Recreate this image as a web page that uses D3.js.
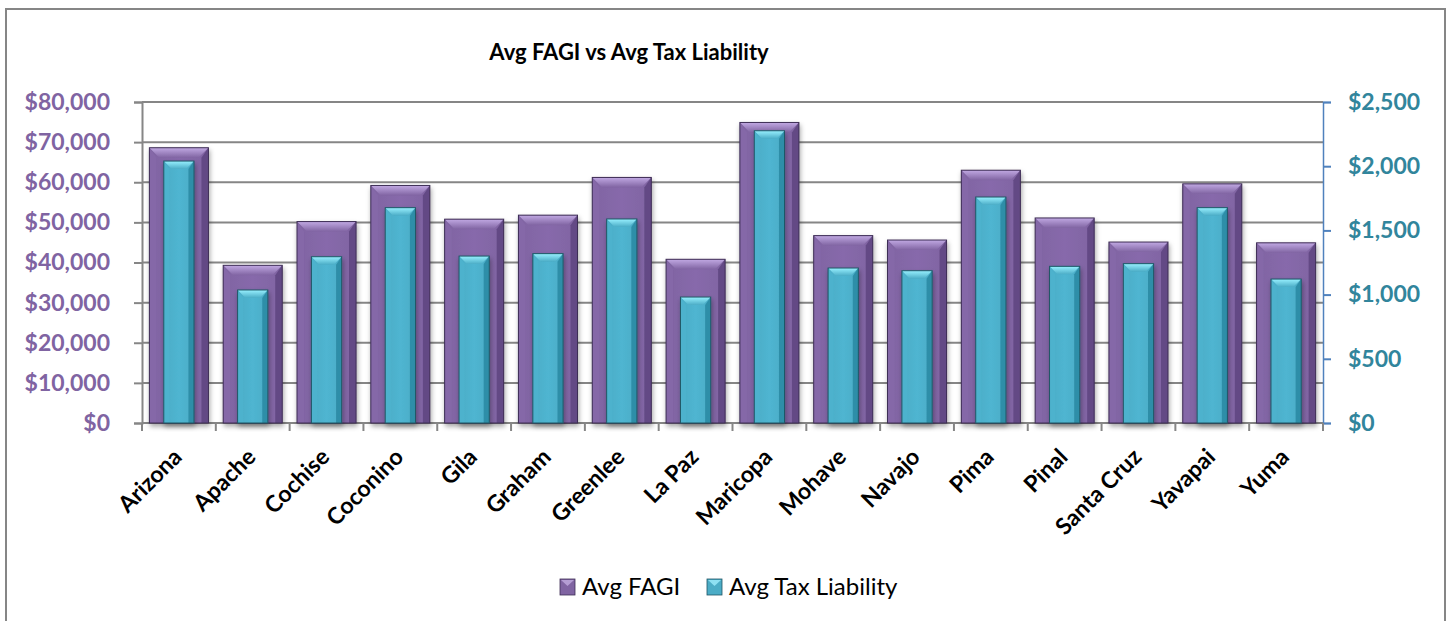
<!DOCTYPE html>
<html>
<head>
<meta charset="utf-8">
<script src="https://cdn.jsdelivr.net/npm/d3@7"></script>
<style>
  body { margin: 0; background: #fff; }
  text { font-family: Lato, "Open Sans", sans-serif; }
</style>
</head>
<body>
<div id="container"></div>
<script>
// chart data
var counties = ["Arizona", "Apache", "Cochise", "Coconino", "Gila", "Graham", "Greenlee", "La Paz",
    "Maricopa", "Mohave", "Navajo", "Pima", "Pinal", "Santa Cruz", "Yavapai", "Yuma"];
var avgFagi = [68600, 39300, 50200, 59200, 50800, 51800, 61200, 40800,
    74900, 46700, 45600, 63000, 51100, 45100, 59600, 44900];
var avgTax = [2040, 1036, 1295, 1677, 1300, 1319, 1589, 981,
    2276, 1207, 1186, 1760, 1220, 1241, 1677, 1121];
var leftTicks = [0, 10000, 20000, 30000, 40000, 50000, 60000, 70000, 80000];
var rightTicks = [0, 500, 1000, 1500, 2000, 2500];
var seriesNames = ["Avg FAGI", "Avg Tax Liability"];

var svgWidth = 1449, svgHeight = 621;
var margin = { top: 102, right: 126, bottom: 198, left: 142 };
var width = svgWidth - margin.left - margin.right,
    height = svgHeight - margin.top - margin.bottom;

var purple = { base: "#8064A2", light: "#B49DD3", dark: "#634A85", edge: "#3E2E55" };
var cyan = { base: "#4BACC6", light: "#8EE0F2", dark: "#2F8EA8", edge: "#1F5665" };

var svg = d3.select("div#container").append("svg")
    .attr("width", svgWidth)
    .attr("height", svgHeight);

// outer frame
svg.append("rect")
    .attr("x", 6).attr("y", 9)
    .attr("width", 1439).attr("height", 620)
    .attr("fill", "none").attr("stroke", "#868686").attr("stroke-width", 2);

var defs = svg.append("defs");
var shadow = defs.append("filter").attr("id", "shadow")
    .attr("x", "-20%").attr("y", "-20%").attr("width", "140%").attr("height", "140%");
shadow.append("feDropShadow").attr("dx", 1).attr("dy", 3).attr("stdDeviation", 2.5)
    .attr("flood-color", "#000").attr("flood-opacity", 0.35);

function faceGradient(id, c) {
    var g = defs.append("linearGradient").attr("id", id)
        .attr("x1", 0).attr("x2", 1).attr("y1", 0).attr("y2", 0);
    g.append("stop").attr("offset", "0%").attr("stop-color", c.base);
    g.append("stop").attr("offset", "50%").attr("stop-color", d3.color(c.base).brighter(0.15));
    g.append("stop").attr("offset", "100%").attr("stop-color", c.base);
}
faceGradient("gradPurple", purple);
faceGradient("gradCyan", cyan);

function topGradient(id, c) {
    var g = defs.append("linearGradient").attr("id", id)
        .attr("x1", 0).attr("x2", 0).attr("y1", 0).attr("y2", 1);
    g.append("stop").attr("offset", "0%").attr("stop-color", d3.color(c.light).brighter(0.2));
    g.append("stop").attr("offset", "100%").attr("stop-color", c.base);
}
topGradient("topPurple", purple);
topGradient("topCyan", cyan);

var g = svg.append("g")
    .attr("transform", "translate(" + margin.left + "," + margin.top + ")");

var x = d3.scaleBand().domain(counties).range([0, width]).padding(0);
var yL = d3.scaleLinear().domain([0, 80000]).range([height, 0]);
var yR = d3.scaleLinear().domain([0, 2500]).range([height, 0]);

// gridlines
g.selectAll(".grid").data(leftTicks.slice(1)).enter().append("line")
    .attr("x1", 0).attr("x2", width)
    .attr("y1", function (d) { return yL(d); })
    .attr("y2", function (d) { return yL(d); })
    .attr("stroke", "#868686").attr("stroke-width", 2);

// left axis
var leftAxis = g.append("g")
    .call(d3.axisLeft(yL).tickValues(leftTicks).tickSize(8).tickPadding(24)
        .tickFormat(function (d) { return "$" + d3.format(",")(d); }));
leftAxis.select(".domain").attr("stroke", "#868686").attr("stroke-width", 2);
leftAxis.selectAll(".tick line").attr("stroke", "#868686").attr("stroke-width", 2);
leftAxis.selectAll("text")
    .attr("fill", "#8064A2").style("font-size", "23px").style("font-weight", "bold")
    .attr("font-family", null);

// right axis
var rightAxis = g.append("g")
    .attr("transform", "translate(" + width + ",0)")
    .call(d3.axisRight(yR).tickValues(rightTicks).tickSize(8).tickPadding(17)
        .tickFormat(function (d) { return "$" + d3.format(",")(d); }));
rightAxis.select(".domain").attr("stroke", "#4F81BD").attr("stroke-width", 1.5);
rightAxis.selectAll(".tick line").attr("stroke", "#4F81BD").attr("stroke-width", 2);
rightAxis.selectAll("text")
    .attr("fill", "#31859C").style("font-size", "23px").style("font-weight", "bold")
    .attr("font-family", null);

// bottom axis
var boundaries = counties.map(function (c) { return x(c); }).concat([width]);
g.append("line").attr("x1", 0).attr("x2", width).attr("y1", height).attr("y2", height)
    .attr("stroke", "#868686").attr("stroke-width", 2);
g.selectAll(".xtick").data(boundaries).enter().append("line")
    .attr("x1", function (d) { return d; }).attr("x2", function (d) { return d; })
    .attr("y1", height).attr("y2", height + 8)
    .attr("stroke", "#868686").attr("stroke-width", 2);

// bevelled bars
function drawBar(sel, bx, by, bw, bh, c, grad, bevel) {
    var b = Math.min(bevel, bh / 2, bw / 2);
    var grp = sel.append("g").attr("filter", "url(#shadow)");
    grp.append("rect").attr("x", bx).attr("y", by).attr("width", bw).attr("height", bh)
        .attr("fill", "url(#grad" + grad + ")");
    // top bevel
    grp.append("polygon")
        .attr("points", [[bx, by], [bx + bw, by], [bx + bw - b, by + b], [bx + b, by + b]].join(" "))
        .attr("fill", "url(#top" + grad + ")");
    // left bevel
    grp.append("polygon")
        .attr("points", [[bx, by], [bx + b * 0.7, by + b], [bx + b * 0.7, by + bh], [bx, by + bh]].join(" "))
        .attr("fill", d3.color(c.base).brighter(0.1)).attr("opacity", 0.9);
    // right bevel
    grp.append("polygon")
        .attr("points", [[bx + bw, by], [bx + bw - b * 0.7, by + b], [bx + bw - b * 0.7, by + bh], [bx + bw, by + bh]].join(" "))
        .attr("fill", c.dark);
    grp.append("rect").attr("x", bx).attr("y", by).attr("width", bw).attr("height", bh)
        .attr("fill", "none").attr("stroke", c.edge).attr("stroke-width", 1);
}

var bars = g.append("g");
counties.forEach(function (c, i) {
    var bwP = x.bandwidth() * 0.8;
    var cx = x(c) + x.bandwidth() / 2;
    drawBar(bars, cx - bwP / 2, yL(avgFagi[i]), bwP, height - yL(avgFagi[i]), purple, "Purple", 10);
});
counties.forEach(function (c, i) {
    var bwC = x.bandwidth() * 0.41;
    var cx = x(c) + x.bandwidth() / 2;
    drawBar(bars, cx - bwC / 2, yR(avgTax[i]), bwC, height - yR(avgTax[i]), cyan, "Cyan", 8);
});

// category labels
g.selectAll(".xlabel").data(counties).enter().append("text")
    .attr("transform", function (d) {
        return "translate(" + (x(d) + x.bandwidth() / 2 - 7) + "," + (height + 24) + ") rotate(-45)";
    })
    .attr("text-anchor", "end")
    .attr("dy", "0.7em")
    .style("font-size", "23px")
    .style("font-weight", "bold")
    .attr("fill", "#000")
    .text(function (d) { return d; });

// title
svg.append("text")
    .attr("x", 629).attr("y", 60)
    .attr("text-anchor", "middle")
    .style("font-size", "22px").style("font-weight", "bold")
    .text("Avg FAGI vs Avg Tax Liability");

// legend
var legend = svg.append("g").attr("transform", "translate(560,587)");
var legendItems = [{ name: seriesNames[0], c: purple, dx: 0 }, { name: seriesNames[1], c: cyan, dx: 147 }];
legendItems.forEach(function (d) {
    var lg = legend.append("g").attr("transform", "translate(" + d.dx + ",0)");
    lg.append("rect").attr("x", 0).attr("y", -8).attr("width", 15).attr("height", 16)
        .attr("fill", d.c.base).attr("stroke", d.c.edge).attr("stroke-width", 0.8);
    lg.append("polygon").attr("points", "1,-7 14,-7 7.5,-1").attr("fill", d.c.light);
    lg.append("text").attr("x", 22).attr("y", 0).attr("dy", "0.35em")
        .style("font-size", "24px").attr("fill", "#000").text(d.name);
});
</script>
</body>
</html>
